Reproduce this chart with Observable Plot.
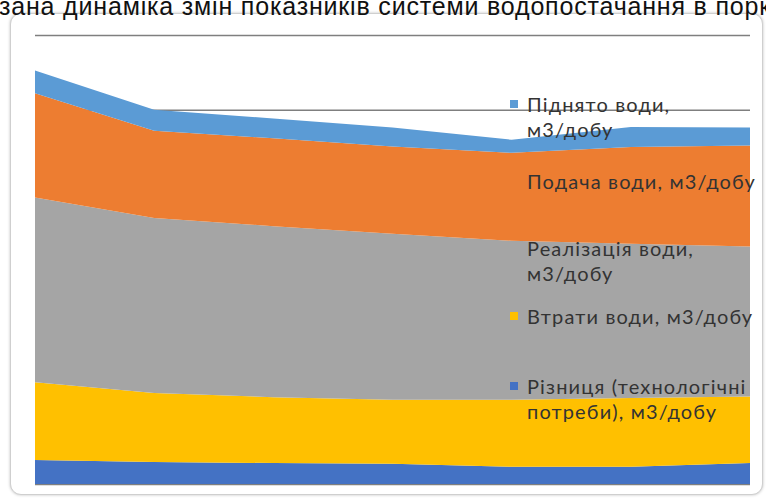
<!DOCTYPE html>
<html><head><meta charset="utf-8">
<script src="https://cdn.jsdelivr.net/npm/d3@7"></script>
<script src="https://cdn.jsdelivr.net/npm/@observablehq/plot@0.6"></script>
<style>
html,body{margin:0;padding:0;background:#fff;}
#wrap{position:relative;width:766px;height:503px;overflow:hidden;background:#fff;}
#card{position:absolute;left:10px;top:13px;width:751px;height:480px;border:1.5px solid #cfcfcf;border-radius:11px;box-shadow:0 0 3px rgba(0,0,0,0.25);background:#fff;}
#chart{position:absolute;left:0;top:0;}
#title{position:absolute;left:-1px;top:-6px;white-space:nowrap;font-family:"Liberation Sans",Arial,sans-serif;font-size:25px;line-height:24px;color:#111;}
#legend{position:absolute;left:500px;top:0;width:260px;height:503px;overflow:hidden;font-family:Lato,"Open Sans",sans-serif;font-size:20px;color:#333;}
.item{position:absolute;left:0;white-space:nowrap;}
.sw{position:absolute;left:10px;width:8px;height:8px;}
.lbl{position:absolute;left:27px;top:0;line-height:25px;}
</style>
</head><body>
<div id="wrap">
  <div id="card"></div>
  <div id="chart"></div>
  <div id="legend"></div>
  <div id="title">зана динаміка змін показників системи водопостачання в порк</div>
</div>
<script>
// Data (stacked from bottom to top)
const points = [1, 2, 3, 4, 5, 6, 7];
const seriesNames = [
  "Різниця (технологічні потреби), м3/добу",
  "Втрати води, м3/добу",
  "Реалізація води, м3/добу",
  "Подача води, м3/добу",
  "Піднято води, м3/добу"
];
const riznytsia    = [320, 295, 280, 270, 230, 230, 280];
const vtraty       = [1040, 920, 880, 855, 895, 920, 890];
const realizatsiia = [2470, 2340, 2285, 2220, 2125, 2060, 2005];
const podacha      = [1390, 1165, 1175, 1165, 1175, 1295, 1350];
const pidniato     = [305, 280, 265, 255, 175, 265, 240];
const seriesColors = ["#4472C4", "#FFC000", "#A5A5A5", "#ED7D31", "#5B9BD5"];
const gridTicks = [0, 1000, 2000, 3000, 4000, 5000, 6000];
// Legend (top to bottom, as displayed)
const legendLines = [
  ["Піднято води,", "м3/добу"],
  ["Подача води, м3/добу"],
  ["Реалізація води,", "м3/добу"],
  ["Втрати води, м3/добу"],
  ["Різниця (технологічні", "потреби), м3/добу"]
];
const legendSeriesIndex = [4, 3, 2, 1, 0];
const legendCenters = [104, 181, 248, 316, 386];

const seriesValues = [riznytsia, vtraty, realizatsiia, podacha, pidniato];
const data = seriesNames.flatMap((name, i) =>
  points.map((p, j) => ({point: p, value: seriesValues[i][j], series: name})));

const chart = Plot.plot({
  width: 766,
  height: 503,
  marginLeft: 35,
  marginRight: 16,
  marginTop: 35,
  marginBottom: 19,
  style: {background: "transparent"},
  x: {type: "linear", domain: [1, 7], axis: null},
  y: {domain: [0, 6000], axis: null},
  color: {domain: seriesNames, range: seriesColors},
  marks: [
    Plot.ruleY(gridTicks, {stroke: "#7f7f7f", strokeWidth: 1.5}),
    Plot.areaY(data, {x: "point", y: "value", z: "series", fill: "series", curve: "linear"})
  ]
});
document.getElementById("chart").appendChild(chart);

const legend = document.getElementById("legend");
const labelEls = [];
legendLines.forEach((lines, k) => {
  const c = legendCenters[k];
  const item = document.createElement("div");
  item.className = "item";
  item.style.top = (c - 12.5) + "px";
  const sw = document.createElement("div");
  sw.className = "sw";
  sw.style.top = (12.5 - 4) + "px";
  sw.style.background = seriesColors[legendSeriesIndex[k]];
  const lbl = document.createElement("div");
  lbl.className = "lbl";
  lbl.innerHTML = lines.join("<br>");
  item.appendChild(sw);
  item.appendChild(lbl);
  legend.appendChild(item);
  labelEls.push(lbl);
});
// fit letter spacing so the one-line label spans like the reference (~229px)
const ref = labelEls[1];
const w = ref.getBoundingClientRect().width;
const n = legendLines[1][0].length;
const ls = Math.max(0, (229 - w) / n);
labelEls.forEach(el => el.style.letterSpacing = ls + "px");
// title spacing to span the page width
const title = document.getElementById("title");
const tw = title.getBoundingClientRect().width;
const tn = title.textContent.length;
title.style.letterSpacing = Math.max(0, (772 - tw) / tn) + "px";
</script>
</body></html>
